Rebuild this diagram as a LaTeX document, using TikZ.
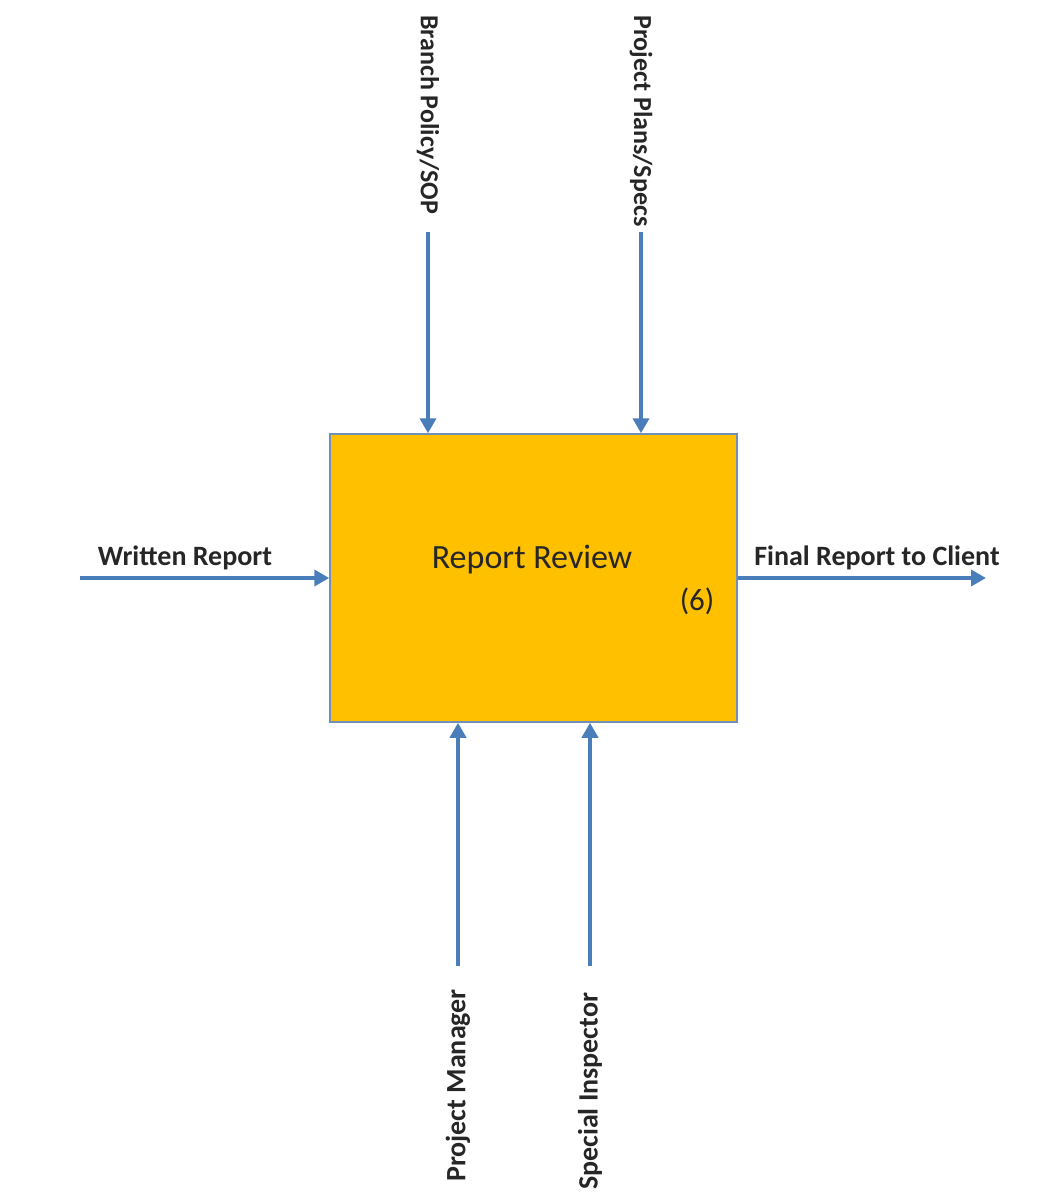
\documentclass[tikz,border=0pt]{standalone}
\usepackage{fontspec}
\setmainfont{Carlito}
\usetikzlibrary{arrows.meta}
\definecolor{boxfill}{HTML}{FFC000}
\definecolor{boxedge}{HTML}{7090B8}
\definecolor{flow}{HTML}{4A7EBB}
\begin{document}
\begin{tikzpicture}[x=1pt,y=-1pt,
  flowarrow/.style={draw=flow,line width=4pt,-{Triangle[length=15pt,width=16pt]}},
  label/.style={font=\fontsize{28}{32}\selectfont\bfseries,inner sep=0pt,text=black!85},
  toplabel/.style={label,font=\fontsize{26}{30}\selectfont\bfseries},
  activity/.style={draw=boxedge,line width=1.5pt,fill=boxfill,minimum width=407pt,minimum height=288pt,inner sep=0pt}]
  \useasboundingbox[fill=white] (0,0) rectangle (1037,1204);

  % activity box
  \node[activity] (box) at (533.5,578) {};
  \node[font=\fontsize{34}{38}\selectfont,anchor=base,inner sep=0pt,text=black!85] (title) at (532,568) {Report Review};
  \node[font=\fontsize{31}{35}\selectfont,anchor=base,inner sep=0pt,text=black!85] (num) at (697,610) {(6)};

  % arrow tails
  \coordinate (inA) at (80,578);
  \coordinate (outA) at (986,578);
  \coordinate (ctlA) at (428,232);
  \coordinate (ctlB) at (641,232);
  \coordinate (mechA) at (458,966);
  \coordinate (mechB) at (590,966);

  % input and output
  \draw[flowarrow] (inA) -- (box.west |- inA);
  \draw[flowarrow] (box.east |- outA) -- (outA);
  % controls
  \draw[flowarrow] (ctlA) -- (ctlA |- box.north);
  \draw[flowarrow] (ctlB) -- (ctlB |- box.north);
  % mechanisms
  \draw[flowarrow] (mechA) -- (mechA |- box.south);
  \draw[flowarrow] (mechB) -- (mechB |- box.south);

  % labels
  \node[label,anchor=base] (inL) at (185,565) {Written Report};
  \node[label,anchor=base] (outL) at (877,565) {Final Report to Client};
  \node[toplabel,rotate=-90,anchor=west] (ctlAL) at (428,15) {Branch Policy/SOP};
  \node[toplabel,rotate=-90,anchor=west] (ctlBL) at (641,15) {Project Plans/Specs};
  \node[label,rotate=90,anchor=west] (mechAL) at (458,1182) {Project Manager};
  \node[label,rotate=90,anchor=west] (mechBL) at (590,1190) {Special Inspector};
\end{tikzpicture}
\end{document}
